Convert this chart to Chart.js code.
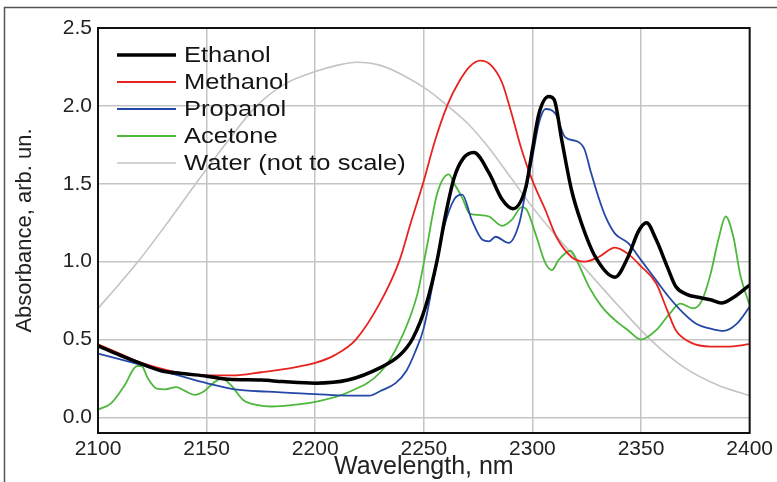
<!DOCTYPE html>
<html>
<head>
<meta charset="utf-8">
<script src="https://cdn.jsdelivr.net/npm/chart.js@4"></script>
<style>
  html, body { margin: 0; padding: 0; background: #fff; }
  #wrap { width: 777px; height: 482px; }
</style>
</head>
<body>
<div id="wrap"><canvas id="js--chart" width="777" height="482"></canvas></div>
<script>
// wavelength (nm) / absorbance
const ethanolX = [2100, 2110, 2119, 2129, 2140, 2150, 2160, 2175, 2185, 2200, 2215, 2230, 2239, 2245, 2251, 2256, 2260, 2264, 2268, 2273, 2280, 2286, 2291, 2297, 2300, 2303, 2307.5, 2310, 2313.5, 2318, 2322.5, 2329, 2338, 2344, 2349, 2352.5, 2357, 2362, 2366, 2371, 2377, 2382, 2387, 2392.5, 2400];
const ethanolY = [0.46, 0.40, 0.35, 0.30, 0.28, 0.265, 0.245, 0.24, 0.23, 0.22, 0.24, 0.32, 0.40, 0.51, 0.72, 1.00, 1.30, 1.54, 1.66, 1.70, 1.57, 1.40, 1.34, 1.48, 1.72, 1.95, 2.06, 2.04, 1.78, 1.46, 1.25, 1.03, 0.90, 1.03, 1.20, 1.25, 1.14, 0.97, 0.84, 0.79, 0.77, 0.755, 0.735, 0.77, 0.85];

const methanolX = [2100, 2110, 2120, 2130, 2140, 2150, 2162, 2175, 2190, 2200, 2209, 2218.7, 2230, 2238.6, 2244, 2250, 2255, 2261, 2266, 2271, 2276, 2281, 2286, 2290, 2295, 2300, 2306, 2311, 2318, 2324, 2330.5, 2338, 2344, 2350, 2357, 2362, 2366, 2373, 2382, 2391, 2400];
const methanolY = [0.47, 0.41, 0.35, 0.31, 0.28, 0.27, 0.27, 0.29, 0.32, 0.35, 0.40, 0.50, 0.74, 1.00, 1.25, 1.52, 1.77, 2.01, 2.15, 2.25, 2.29, 2.26, 2.15, 1.97, 1.72, 1.52, 1.33, 1.16, 1.03, 1.00, 1.03, 1.09, 1.05, 0.97, 0.86, 0.69, 0.56, 0.48, 0.455, 0.455, 0.47];

const propanolX = [2100, 2119, 2137, 2150, 2163, 2178, 2200, 2215, 2225, 2230, 2237, 2242, 2246, 2250, 2254.7, 2259.3, 2264, 2267.7, 2272, 2277, 2280, 2283, 2289, 2294, 2297, 2300, 2303, 2306, 2310.6, 2315, 2321, 2324, 2327, 2330.5, 2333.6, 2338, 2344, 2350, 2357, 2363, 2369.5, 2375.6, 2382, 2388, 2394, 2400];
const propanolY = [0.41, 0.34, 0.27, 0.22, 0.18, 0.165, 0.15, 0.14, 0.14, 0.17, 0.22, 0.30, 0.42, 0.575, 0.90, 1.22, 1.40, 1.43, 1.27, 1.14, 1.13, 1.16, 1.12, 1.25, 1.46, 1.67, 1.89, 1.98, 1.95, 1.80, 1.77, 1.72, 1.57, 1.41, 1.29, 1.18, 1.12, 1.01, 0.88, 0.77, 0.67, 0.60, 0.57, 0.555, 0.60, 0.71];

const acetoneX = [2100, 2106, 2112, 2118, 2120, 2123, 2127, 2131, 2136, 2140, 2144.5, 2149, 2153, 2157, 2161, 2167, 2173, 2180, 2190, 2200, 2215, 2230, 2239, 2247, 2251.6, 2256, 2261.5, 2264, 2267.7, 2271, 2275, 2280, 2286, 2290.6, 2295, 2297, 2301.4, 2306, 2309, 2312, 2317.5, 2321, 2326, 2332, 2338, 2344, 2350, 2357, 2363.4, 2368, 2374, 2378, 2382, 2385.6, 2389, 2392.5, 2395.6, 2400];
const acetoneY = [0.05, 0.09, 0.20, 0.33, 0.33, 0.25, 0.185, 0.18, 0.195, 0.17, 0.145, 0.17, 0.22, 0.25, 0.21, 0.11, 0.08, 0.07, 0.08, 0.10, 0.16, 0.29, 0.49, 0.79, 1.11, 1.43, 1.56, 1.50, 1.41, 1.31, 1.30, 1.29, 1.23, 1.27, 1.35, 1.34, 1.18, 0.99, 0.945, 1.01, 1.07, 0.99, 0.84, 0.71, 0.625, 0.56, 0.50, 0.56, 0.67, 0.73, 0.70, 0.75, 0.92, 1.14, 1.29, 1.16, 0.92, 0.72];

const waterX = [2100, 2110, 2119, 2132, 2145, 2159, 2173, 2186, 2200, 2210, 2219, 2230, 2240, 2252, 2261, 2270, 2280, 2290, 2300, 2310, 2324, 2340, 2355, 2370, 2385, 2400];
const waterY = [0.70, 0.86, 1.01, 1.25, 1.50, 1.76, 2.00, 2.14, 2.22, 2.26, 2.28, 2.26, 2.20, 2.10, 2.00, 1.89, 1.73, 1.54, 1.35, 1.18, 0.96, 0.71, 0.49, 0.32, 0.21, 0.14];

const xTicks = [2100, 2150, 2200, 2250, 2300, 2350, 2400];
const yTicks = [0, 0.5, 1.0, 1.5, 2.0, 2.5];

const labels = ["Ethanol", "Methanol", "Propanol", "Acetone", "Water (not to scale)"];
const colors = ["#000000", "#e8231f", "#2448a6", "#4db83c", "#c4c4c4"];
const widths = [3.5, 1.8, 1.8, 1.8, 1.6];

const zip = (xs, ys) => xs.map((x, i) => ({ x: x, y: ys[i] }));
const series = [
    zip(ethanolX, ethanolY),
    zip(methanolX, methanolY),
    zip(propanolX, propanolY),
    zip(acetoneX, acetoneY),
    zip(waterX, waterY)
];

const font = "'Liberation Sans', Arial, sans-serif";

// legend inside the plot + borders
const decor = {
    id: "decor",
    afterDraw(chart) {
        const ctx = chart.ctx;
        const a = chart.chartArea;
        ctx.save();
        // outer frame (only left and top visible)
        ctx.strokeStyle = "#555";
        ctx.lineWidth = 1.5;
        ctx.beginPath();
        ctx.moveTo(4.5, 490);
        ctx.lineTo(4.5, 7.5);
        ctx.lineTo(790, 7.5);
        ctx.stroke();
        // plot border
        ctx.strokeStyle = "#111";
        ctx.lineWidth = 2;
        ctx.strokeRect(a.left, a.top, a.right - a.left, a.bottom - a.top);
        // legend
        chart.data.datasets.forEach((ds, i) => {
            const y = 55 + i * 27;
            ctx.strokeStyle = ds.borderColor;
            ctx.lineWidth = ds.borderWidth;
            ctx.beginPath();
            ctx.moveTo(117, y);
            ctx.lineTo(176, y);
            ctx.stroke();
            // the source picture is a little wider than tall
            ctx.save();
            ctx.translate(184, y + 1);
            ctx.scale(1.16, 1);
            ctx.font = "22px " + font;
            ctx.textBaseline = "middle";
            ctx.fillStyle = "#151515";
            ctx.fillText(ds.label, 0, 0);
            ctx.restore();
        });
        ctx.restore();
    }
};

const config = {
    type: "line",
    data: {
        datasets: series.map((pts, i) => ({
            label: labels[i],
            data: pts,
            borderColor: colors[i],
            borderWidth: widths[i],
            pointRadius: 0,
            fill: false,
            cubicInterpolationMode: "monotone"
        }))
    },
    options: {
        responsive: false,
        animation: false,
        layout: { padding: { left: 8, top: 28, right: 26, bottom: 0 } },
        plugins: {
            legend: { display: false },
            tooltip: { enabled: false }
        },
        scales: {
            x: {
                type: "linear",
                min: 2100,
                max: 2400,
                afterBuildTicks: (axis) => { axis.ticks = xTicks.map(v => ({ value: v })); },
                afterFit: (axis) => { axis.height = 49; },
                grid: { color: "#c4c4c4", lineWidth: 1.5, drawTicks: false },
                border: { display: false },
                ticks: {
                    padding: 4,
                    color: "#222",
                    font: { family: font, size: 21 },
                    maxRotation: 0,
                    callback: (v) => v
                },
                title: {
                    display: true,
                    text: "Wavelength, nm",
                    color: "#222",
                    font: { family: font, size: 25 },
                    padding: { top: 0, bottom: 0 }
                }
            },
            y: {
                min: -0.1,
                max: 2.5,
                afterBuildTicks: (axis) => { axis.ticks = yTicks.map(v => ({ value: v })); },
                afterFit: (axis) => { axis.width = 90; },
                grid: { color: "#c4c4c4", lineWidth: 1.5, drawTicks: false },
                border: { display: false },
                ticks: {
                    padding: 6,
                    color: "#222",
                    font: { family: font, size: 21 },
                    callback: (v) => v.toFixed(1)
                },
                title: {
                    display: true,
                    text: "Absorbance, arb. un.",
                    color: "#222",
                    font: { family: font, size: 22 },
                    padding: { top: 4, bottom: 0 }
                }
            }
        }
    },
    plugins: [decor]
};

const chart = new Chart(document.getElementById("js--chart"), config);
</script>
</body>
</html>
